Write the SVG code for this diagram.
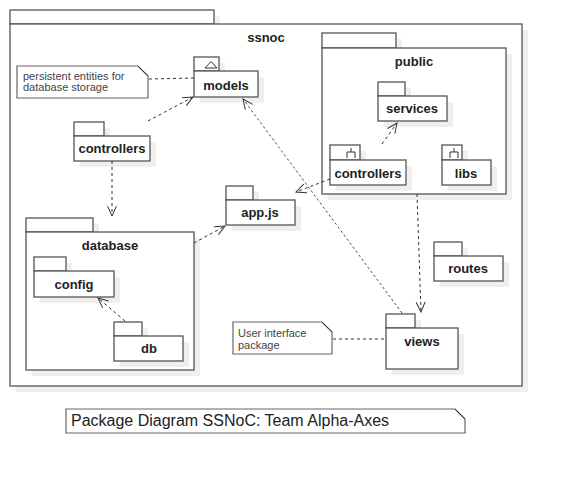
<svg xmlns="http://www.w3.org/2000/svg" width="562" height="481" viewBox="0 0 562 481">
<style>
.sh{fill:#efefef;stroke:none}
.pk{fill:#fff;stroke:#555;stroke-width:1.3}
.lb{font-family:"Liberation Sans",Arial,sans-serif;font-weight:bold;font-size:13px;fill:#222;text-anchor:middle}
.nt{font-family:"Liberation Sans",Arial,sans-serif;font-size:11px;fill:#444}
.note{fill:#fff;stroke:#666;stroke-width:1.2}
.fold{fill:none;stroke:#222;stroke-width:0.8}
.dep{fill:none;stroke:#333;stroke-width:1;stroke-dasharray:3,3}
.dep2{fill:none;stroke:#333;stroke-width:0.9;stroke-dasharray:2.5,2.5}
.ico{fill:none;stroke:#333;stroke-width:1}
</style>
<defs>
<marker id="arr" markerUnits="userSpaceOnUse" markerWidth="12" markerHeight="12" viewBox="0 0 12 12" refX="11" refY="6" orient="auto">
<path d="M1,1.5 L11,6 L1,10.5" fill="none" stroke="#333" stroke-width="1"/>
</marker>
</defs>
<rect width="562" height="481" fill="#fff"/>

<g id="ssnoc">
<rect class="sh" x="16" y="16" width="204" height="14"/>
<rect class="sh" x="16" y="30" width="512" height="362"/>
<rect class="pk" x="10" y="10" width="204" height="14"/>
<rect class="pk" x="10" y="24" width="512" height="362"/>
<text class="lb" x="266" y="42">ssnoc</text>
</g>

<g id="note-persistent">
<path class="note" d="M17,66 H138 L148,76 V98 H17 Z"/>
<path class="fold" d="M138,66 L148,76"/>
<text class="nt" x="23" y="80">persistent entities for</text>
<text class="nt" x="23" y="91">database storage</text>
</g>

<g id="models">
<rect class="sh" x="200" y="63" width="25" height="14"/>
<rect class="sh" x="200" y="77" width="64" height="26"/>
<rect class="pk" x="194" y="57" width="25" height="14"/>
<rect class="pk" x="194" y="71" width="64" height="26"/>
<path class="ico" d="M205,68 L211,61.5 L217,68 Z"/>
<text class="lb" x="226" y="90">models</text>
</g>

<g id="controllers">
<rect class="sh" x="80" y="128" width="30" height="14"/>
<rect class="sh" x="80" y="142" width="76" height="25"/>
<rect class="pk" x="74" y="122" width="30" height="14"/>
<rect class="pk" x="74" y="136" width="76" height="25"/>
<text class="lb" x="112" y="153">controllers</text>
</g>

<g id="public">
<rect class="sh" x="328" y="39" width="74" height="15"/>
<rect class="sh" x="328" y="54" width="184" height="146"/>
<rect class="pk" x="322" y="33" width="74" height="15"/>
<rect class="pk" x="322" y="48" width="184" height="146"/>
<text class="lb" x="414" y="66">public</text>
</g>

<g id="services">
<rect class="sh" x="384" y="88" width="27" height="14"/>
<rect class="sh" x="384" y="102" width="69" height="25"/>
<rect class="pk" x="378" y="82" width="27" height="14"/>
<rect class="pk" x="378" y="96" width="69" height="25"/>
<text class="lb" x="412" y="113">services</text>
</g>

<g id="public-controllers">
<rect class="sh" x="336" y="151" width="30" height="15"/>
<rect class="sh" x="336" y="166" width="76" height="25"/>
<rect class="pk" x="330" y="145" width="30" height="15"/>
<rect class="pk" x="330" y="160" width="76" height="25"/>
<path class="ico" d="M351,148 V152 M347,158 V152 H355 V158"/>
<text class="lb" x="368" y="178">controllers</text>
</g>

<g id="libs">
<rect class="sh" x="448" y="151" width="20" height="15"/>
<rect class="sh" x="448" y="166" width="49" height="25"/>
<rect class="pk" x="442" y="145" width="20" height="15"/>
<rect class="pk" x="442" y="160" width="49" height="25"/>
<path class="ico" d="M454,148 V152 M450,158 V152 H458 V158"/>
<text class="lb" x="466" y="178">libs</text>
</g>

<g id="appjs">
<rect class="sh" x="232" y="192" width="27" height="14"/>
<rect class="sh" x="232" y="206" width="69" height="25"/>
<rect class="pk" x="226" y="186" width="27" height="14"/>
<rect class="pk" x="226" y="200" width="69" height="25"/>
<text class="lb" x="260" y="217">app.js</text>
</g>

<g id="database">
<rect class="sh" x="32" y="224" width="67" height="14"/>
<rect class="sh" x="32" y="238" width="168" height="138"/>
<rect class="pk" x="26" y="218" width="67" height="14"/>
<rect class="pk" x="26" y="232" width="168" height="138"/>
<text class="lb" x="110" y="250">database</text>
</g>

<g id="config">
<rect class="sh" x="40" y="263" width="32" height="14"/>
<rect class="sh" x="40" y="277" width="80" height="26"/>
<rect class="pk" x="34" y="257" width="32" height="14"/>
<rect class="pk" x="34" y="271" width="80" height="26"/>
<text class="lb" x="74" y="289">config</text>
</g>

<g id="db">
<rect class="sh" x="120" y="328" width="28" height="14"/>
<rect class="sh" x="120" y="342" width="69" height="25"/>
<rect class="pk" x="114" y="322" width="28" height="14"/>
<rect class="pk" x="114" y="336" width="69" height="25"/>
<text class="lb" x="149" y="353">db</text>
</g>

<g id="routes">
<rect class="sh" x="440" y="248" width="28" height="14"/>
<rect class="sh" x="440" y="262" width="69" height="25"/>
<rect class="pk" x="434" y="242" width="28" height="14"/>
<rect class="pk" x="434" y="256" width="69" height="25"/>
<text class="lb" x="468" y="273">routes</text>
</g>

<g id="views">
<rect class="sh" x="392" y="320" width="29" height="14"/>
<rect class="sh" x="392" y="334" width="72" height="41"/>
<rect class="pk" x="386" y="314" width="29" height="14"/>
<rect class="pk" x="386" y="328" width="72" height="41"/>
<text class="lb" x="422" y="346">views</text>
</g>

<g id="note-ui">
<path class="note" d="M233,322 H322 L332,332 V354 H233 Z"/>
<path class="fold" d="M322,322 L332,332"/>
<text class="nt" x="238" y="337">User interface</text>
<text class="nt" x="238" y="349">package</text>
</g>

<g id="title-note">
<path class="note" d="M66,409 H455 L465,419 V433 H66 Z"/>
<path class="fold" d="M455,409 L465,419"/>
<text x="71" y="426" font-family="Liberation Sans,Arial,sans-serif" font-size="16" fill="#222">Package Diagram SSNoC: Team Alpha-Axes</text>
</g>

<g id="connectors">
<path class="dep" d="M149,79 L194,78"/>
<path class="dep" d="M148,121 L193,97" marker-end="url(#arr)"/>
<path class="dep" d="M112,161 L112,216" marker-end="url(#arr)"/>
<path class="dep" d="M194,243 L225,226" marker-end="url(#arr)"/>
<path class="dep" d="M125,321 L98,298" marker-end="url(#arr)"/>
<path class="dep" d="M382,144 L397,123" marker-end="url(#arr)"/>
<path class="dep" d="M330,179 L296,192" marker-end="url(#arr)"/>
<path class="dep2" d="M402,313 L243,99" marker-end="url(#arr)"/>
<path class="dep" d="M417,194 L421,312" marker-end="url(#arr)"/>
<path class="dep" d="M333,339 L386,339"/>
</g>
</svg>
